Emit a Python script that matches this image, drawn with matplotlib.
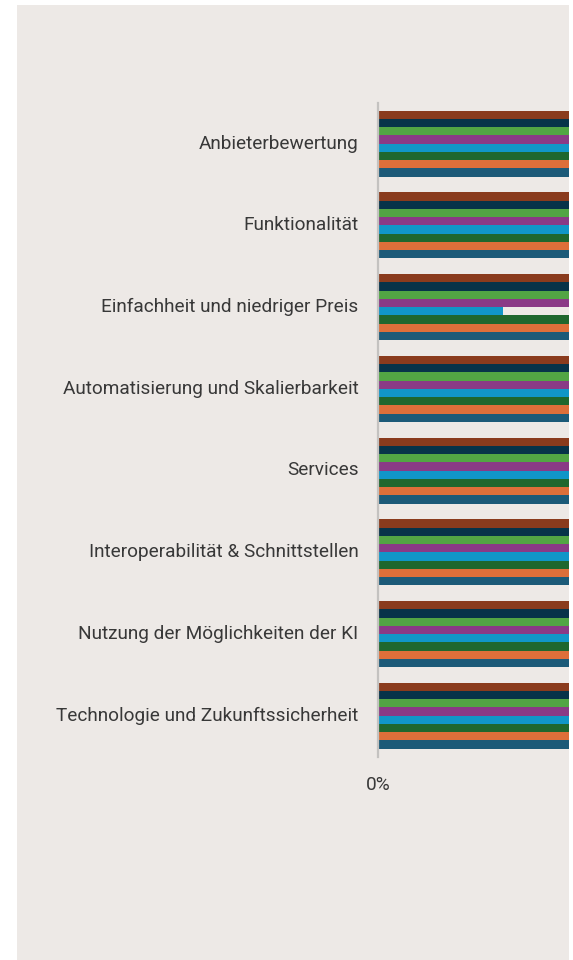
import matplotlib
matplotlib.use("Agg")
import matplotlib.pyplot as plt
from matplotlib.patches import Rectangle
from matplotlib.transforms import ScaledTranslation
import numpy as np

categories = [
    "Anbieterbewertung",
    "Funktionalität",
    "Einfachheit und niedriger Preis",
    "Automatisierung und Skalierbarkeit",
    "Services",
    "Interoperabilität & Schnittstellen",
    "Nutzung der Möglichkeiten der KI",
    "Technologie und Zukunftssicherheit",
]

series_names = ["Gruppe 1", "Gruppe 2", "Gruppe 3", "Gruppe 4",
                "Gruppe 5", "Gruppe 6", "Gruppe 7", "Gruppe 8"]
series_colors = ["#8A3B1D", "#073349", "#52A544", "#8A3A86",
                 "#1196C8", "#1F672E", "#DD6F3A", "#1C5A78"]

# values in percent (only the first part of the scale is visible)
values = {
    "Gruppe 1": [62, 58, 41, 47, 39, 44, 52, 49],
    "Gruppe 2": [55, 60, 38, 45, 42, 40, 48, 51],
    "Gruppe 3": [64, 57, 44, 50, 37, 46, 55, 47],
    "Gruppe 4": [59, 61, 35, 43, 40, 42, 50, 53],
    "Gruppe 5": [57, 54, 10.5, 41, 36, 39, 46, 45],
    "Gruppe 6": [60, 63, 39, 48, 41, 45, 51, 50],
    "Gruppe 7": [58, 56, 42, 46, 38, 43, 49, 48],
    "Gruppe 8": [61, 59, 40, 44, 39, 41, 47, 52],
}

W, H = 573, 960
fig = plt.figure(figsize=(W / 100, H / 100), dpi=100)
fig.patch.set_facecolor("white")
fig.patches.append(Rectangle((17 / W, 0), (569 - 17) / W, (960 - 5) / H,
                             transform=fig.transFigure, facecolor="#EDE9E6",
                             edgecolor="none", zorder=-10))

ax_left, ax_right = 378 / W, 569 / W
ax_top, ax_bottom = 1 - 102.85 / H, 1 - 756.6 / H
ax = fig.add_axes([ax_left, ax_bottom, ax_right - ax_left, ax_top - ax_bottom])
ax.set_facecolor("none")
ax.set_zorder(5)

n_series = len(series_names)
bar_h = 66 / 81.7 / n_series
y = np.arange(len(categories))
for j, name in enumerate(series_names):
    offs = (j - (n_series - 1) / 2) * bar_h
    ax.barh(y + offs, values[name], height=bar_h, color=series_colors[j],
            edgecolor="none", zorder=2)

ax.set_ylim(len(categories) - 0.5, -0.5)
ax.set_xlim(0, 16)
ax.set_yticks(y)
ax.set_yticklabels(categories)
ax.set_xticks([0])
ax.set_xticklabels(["0%"])

for s in ["top", "right", "bottom"]:
    ax.spines[s].set_visible(False)
ax.spines["left"].set_color("#C4C2C0")
ax.spines["left"].set_linewidth(1.6)
ax.spines["left"].set_zorder(3)

ax.tick_params(axis="y", length=0, pad=14, labelsize=13.7, labelcolor="#383838")
ax.tick_params(axis="x", length=0, pad=14, labelsize=13.7, labelcolor="#383838")
shift = ScaledTranslation(0, 2.2 / 100, fig.dpi_scale_trans)
for lab in ax.get_yticklabels():
    lab.set_fontfamily("Roboto")
    lab.set_transform(lab.get_transform() + shift)
for lab in ax.get_xticklabels():
    lab.set_fontfamily("Roboto")

fig.savefig("out.png", dpi=100, facecolor=fig.get_facecolor())
